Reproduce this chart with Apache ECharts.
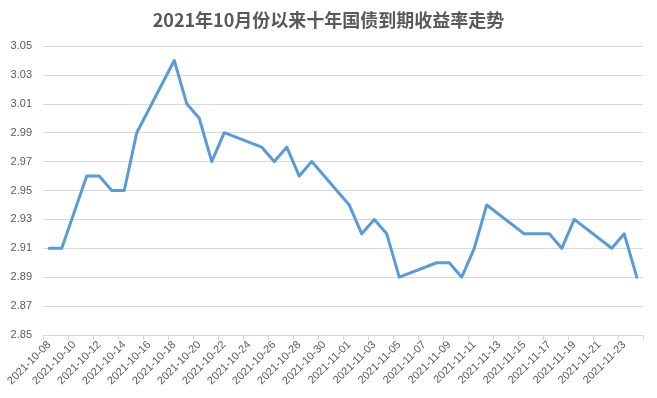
<!DOCTYPE html>
<html>
<head>
<meta charset="utf-8">
<script src="https://cdn.jsdelivr.net/npm/echarts@6/dist/echarts.min.js"></script>
<style>
html,body{margin:0;padding:0;background:#fff;}
#chart{width:657px;height:398px;}
</style>
</head>
<body>
<div id="chart"></div>
<script>
var titleText = '2021年10月份以来十年国债到期收益率走势';
var dates = [
  '2021-10-08','2021-10-09','2021-10-10','2021-10-11','2021-10-12','2021-10-13','2021-10-14','2021-10-15',
  '2021-10-16','2021-10-17','2021-10-18','2021-10-19','2021-10-20','2021-10-21','2021-10-22','2021-10-23',
  '2021-10-24','2021-10-25','2021-10-26','2021-10-27','2021-10-28','2021-10-29','2021-10-30','2021-10-31',
  '2021-11-01','2021-11-02','2021-11-03','2021-11-04','2021-11-05','2021-11-06','2021-11-07','2021-11-08',
  '2021-11-09','2021-11-10','2021-11-11','2021-11-12','2021-11-13','2021-11-14','2021-11-15','2021-11-16',
  '2021-11-17','2021-11-18','2021-11-19','2021-11-20','2021-11-21','2021-11-22','2021-11-23','2021-11-24'
];
var yields = [
  2.91, 2.91, null, 2.96, 2.96, 2.95, 2.95, 2.99,
  null, null, 3.04, 3.01, 3.00, 2.97, 2.99, null,
  null, 2.98, 2.97, 2.98, 2.96, 2.97, null, null,
  2.94, 2.92, 2.93, 2.92, 2.89, null, null, 2.90,
  2.90, 2.89, 2.91, 2.94, null, null, 2.92, 2.92,
  2.92, 2.91, 2.93, null, null, 2.91, 2.92, 2.89
];
var yMin = 2.85, yMax = 3.05, yStep = 0.02;

var chart = echarts.init(document.getElementById('chart'), null, {renderer:'canvas'});
chart.setOption({
  animation: false,
  backgroundColor: '#ffffff',
  title: {
    text: titleText,
    left: 'center',
    top: 6,
    textStyle: {
      fontFamily: '"Noto Sans CJK SC", sans-serif',
      fontSize: 18,
      fontWeight: 'bold',
      color: '#595959'
    }
  },
  grid: {left: 43, right: 14, top: 46, bottom: 63},
  xAxis: {
    type: 'category',
    data: dates,
    boundaryGap: true,
    axisLine: {show: true, lineStyle: {color: '#d9d9d9', width: 1}},
    axisTick: {show: true, interval: 1, length: 5, lineStyle: {color: '#d9d9d9'}},
    axisLabel: {
      interval: 1,
      rotate: 45,
      margin: 8,
      color: '#595959',
      fontSize: 11,
      fontFamily: '"Liberation Sans", sans-serif'
    },
    splitLine: {show: false}
  },
  yAxis: {
    type: 'value',
    min: yMin,
    max: yMax,
    interval: yStep,
    axisLine: {show: false},
    axisTick: {show: false},
    axisLabel: {
      margin: 11,
      color: '#595959',
      fontSize: 11,
      fontFamily: '"Liberation Sans", sans-serif',
      formatter: function (v) { return v.toFixed(2); }
    },
    splitLine: {lineStyle: {color: '#d9d9d9', width: 1}}
  },
  series: [{
    type: 'line',
    data: yields,
    connectNulls: true,
    symbol: 'none',
    lineStyle: {color: '#5b9bd5', width: 3, join: 'round', cap: 'round'}
  }]
});
</script>
</body>
</html>
